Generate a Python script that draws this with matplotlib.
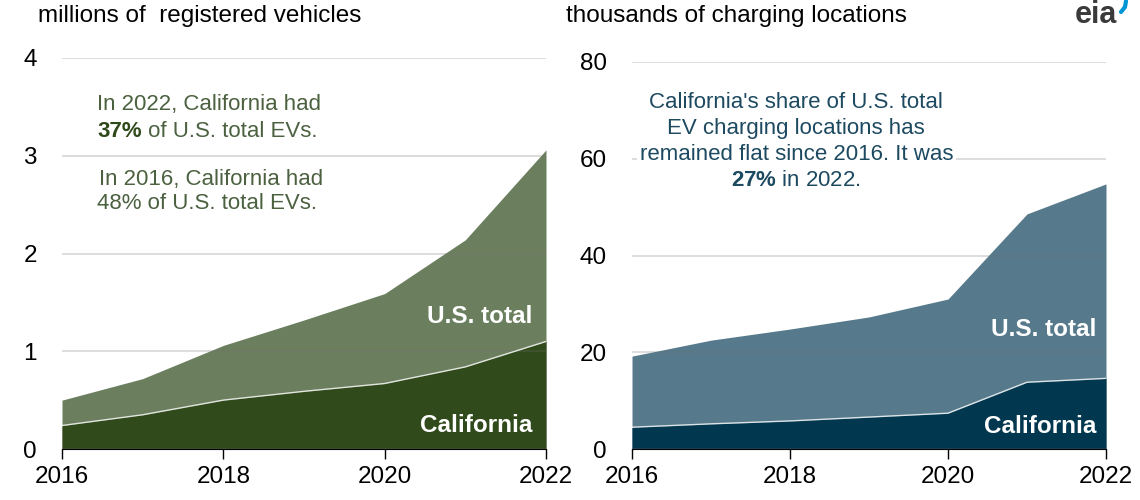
import numpy as np
import matplotlib
matplotlib.use("Agg")
import matplotlib.pyplot as plt
from matplotlib.lines import Line2D

plt.rcParams['font.family'] = ['Liberation Sans', 'DejaVu Sans']
plt.rcParams['mathtext.fontset'] = 'custom'
plt.rcParams['mathtext.rm'] = 'Liberation Sans'
plt.rcParams['mathtext.bf'] = 'Liberation Sans:bold'

years = [2016, 2017, 2018, 2019, 2020, 2021, 2022]
ev_us = [0.50, 0.72, 1.06, 1.32, 1.59, 2.14, 3.06]
ev_ca = [0.24, 0.35, 0.50, 0.59, 0.67, 0.84, 1.10]
chg_us = [19.2, 22.5, 24.8, 27.3, 31.0, 48.6, 54.8]
chg_ca = [4.5, 5.2, 5.8, 6.6, 7.4, 13.8, 14.6]
xticks = [2016, 2018, 2020, 2022]

fig = plt.figure(figsize=(11.4, 5), dpi=100)
ax1 = fig.add_axes([62/1140, 51/500, (546-62)/1140, (449-58)/500])
ax2 = fig.add_axes([632/1140, 51/500, (1106-632)/1140, (449-62)/500])

def panel(ax, us, ca, top, step, c_light, c_dark):
    ax.fill_between(years, 0, us, color=c_light, lw=0, zorder=1)
    ax.fill_between(years, 0, ca, color=c_dark, lw=0, zorder=2)
    ax.plot(years, ca, color='white', lw=1, alpha=0.8, zorder=3)
    ax.set_xlim(2016, 2022)
    ax.set_ylim(0, top)
    ax.set_yticks(np.arange(0, top + step, step))
    ax.set_xticks(xticks)
    ax.grid(axis='y', color='#707070', alpha=0.28, lw=1.2, zorder=4)
    ax.set_axisbelow(False)
    for s in ['top', 'right', 'left']:
        ax.spines[s].set_visible(False)
    ax.spines['bottom'].set_color('black')
    ax.spines['bottom'].set_zorder(5)
    ax.tick_params(axis='x', direction='out', length=7, width=1, labelsize=17.5, pad=5)
    ax.tick_params(axis='y', length=0, labelsize=17.5, pad=18)

panel(ax1, ev_us, ev_ca, 4, 1, '#6b7f5f', '#304a1b')
panel(ax2, chg_us, chg_ca, 80, 20, '#567a8b', '#02384f')

# series labels
lab = dict(color='white', fontsize=17.5, fontweight='bold', ha='right', va='center', zorder=6)
ax1.text(2021.83, 1.36, 'U.S. total', **lab)
ax1.text(2021.83, 0.24, 'California', **lab)
ax2.text(2021.88, 24.6, 'U.S. total', **lab)
ax2.text(2021.88, 4.6, 'California', **lab)

# notes
green_txt = '#4b6140'
note = dict(fontsize=16, ha='left', va='center')
ax1.text(2016.43, 3.52, 'In 2022, California had', color=green_txt, **note)
t37 = ax1.text(2016.44, 3.25, '37%', color='#2f4a1a', fontweight='bold', **note)
ax1.annotate(' of U.S. total EVs.', xy=(1, 0.5), xycoords=t37, color=green_txt, **note)
ax1.text(2016.46, 2.76, 'In 2016, California had', color=green_txt, **note)
ax1.text(2016.44, 2.51, '48% of U.S. total EVs.', color=green_txt, **note)

blue_txt = '#1d4a60'
ax2.text(2018.08, 63.6,
         "California's share of U.S. total\nEV charging locations has\nremained flat since 2016. It was\n"
         r"$\bf{27\%}$ in 2022.",
         color=blue_txt, fontsize=16, ha='center', va='center', linespacing=1.3,
         bbox=dict(facecolor='white', edgecolor='none', pad=2), zorder=6)

# titles
fig.text(38/1140, 1 - 16/500, 'millions of  registered vehicles', fontsize=17.5, ha='left', va='center')
fig.text(566/1140, 1 - 16/500, 'thousands of charging locations', fontsize=17.5, ha='left', va='center')

# logo
fig.text(1117/1140, 1 - 15/500, 'eia', fontsize=22, fontweight='bold', color='#3a3a3a', ha='right', va='center')
fig.add_artist(Line2D([1126/1140, 1125/1140, 1121/1140], [1 - 1/500, 1 - 7/500, 1 - 12/500],
                      transform=fig.transFigure, color='#0096d6', lw=3, solid_capstyle='round'))

fig.savefig('out.png', dpi=100)
